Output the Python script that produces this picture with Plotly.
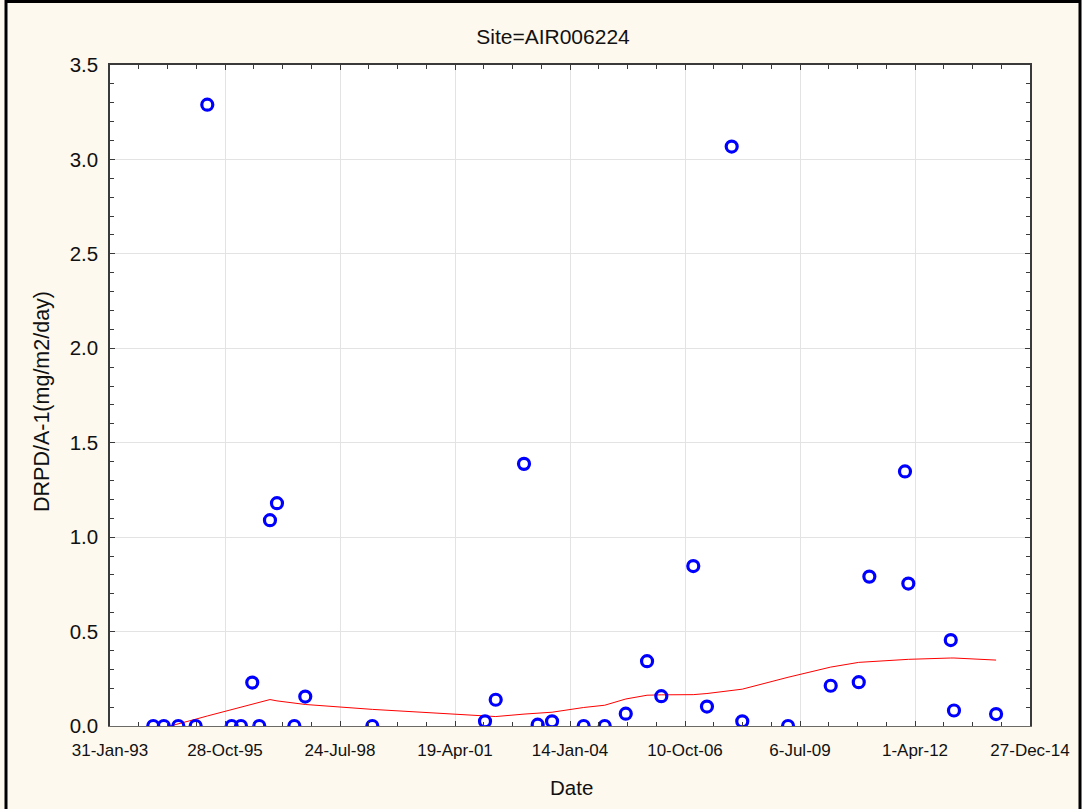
import plotly.graph_objects as go

# Measured deposition samples
sample_dates = [
    "1994-02-11", "1994-05-14", "1994-09-17", "1995-02-15", "1995-05-27",
    "1995-12-25", "1996-03-15", "1996-06-21", "1996-08-21", "1996-11-22",
    "1997-01-22", "1997-06-22", "1997-09-25", "1999-05-01", "2002-01-05",
    "2002-04-08", "2002-12-10", "2003-04-08", "2003-08-11", "2004-05-12",
    "2004-11-11", "2005-05-13", "2005-11-14", "2006-03-18", "2006-12-21",
    "2007-04-19", "2007-11-20", "2008-02-20", "2009-03-24", "2010-03-30",
    "2010-11-29", "2011-03-01", "2012-01-05", "2012-02-03", "2013-02-06",
    "2013-03-06", "2014-03-07",
]
sample_values = [
    0.0, 0.0, 0.0, 0.0, 3.29,
    0.0, 0.0, 0.23, 0.0, 1.09,
    1.18, 0.0, 0.156, 0.0, 0.025,
    0.139, 1.388, 0.007, 0.025, 0.0,
    0.0, 0.065, 0.343, 0.158, 0.847,
    0.103, 3.068, 0.025, 0.0, 0.213,
    0.232, 0.791, 1.348, 0.754, 0.455,
    0.082, 0.063,
]

# Smoothed trend evaluated at the sample dates
trend_values = [
    -0.024, -0.010, 0.012, 0.036, 0.053,
    0.087, 0.100, 0.116, 0.126, 0.140,
    0.133, 0.120, 0.114, 0.088, 0.053,
    0.050, 0.063, 0.069, 0.073, 0.098,
    0.110, 0.143, 0.163, 0.165, 0.166,
    0.172, 0.186, 0.195, 0.258, 0.312,
    0.337, 0.341, 0.352, 0.353, 0.360,
    0.360, 0.349,
]

x_tick_dates = [
    "1993-01-31", "1995-10-28", "1998-07-24", "2001-04-19", "2004-01-14",
    "2006-10-10", "2009-07-06", "2012-04-01", "2014-12-27",
]
x_tick_labels = [
    "31-Jan-93", "28-Oct-95", "24-Jul-98", "19-Apr-01", "14-Jan-04",
    "10-Oct-06", "6-Jul-09", "1-Apr-12", "27-Dec-14",
]
y_tick_values = [0.0, 0.5, 1.0, 1.5, 2.0, 2.5, 3.0, 3.5]
y_tick_labels = ["0.0", "0.5", "1.0", "1.5", "2.0", "2.5", "3.0", "3.5"]

SANS = "Liberation Sans, Arial, sans-serif"
NARROW = "Liberation Sans Narrow, Arial Narrow, Liberation Sans, sans-serif"
PAPER = "#FEF9EE"
DAY_MS = 86400000

fig = go.Figure()
fig.add_trace(go.Scatter(
    x=sample_dates, y=trend_values, mode="lines",
    line=dict(color="#FF0000", width=1), hoverinfo="skip", showlegend=False,
))
fig.add_trace(go.Scatter(
    x=sample_dates, y=sample_values, mode="markers",
    marker=dict(symbol="circle-open", size=11, color="#0000FF",
                line=dict(width=3.2, color="#0000FF")),
    cliponaxis=True, showlegend=False,
))

axis_common = dict(
    showline=True, linecolor="#3a3a3a", linewidth=1.5, mirror="ticks",
    ticks="inside", ticklen=5, tickcolor="#3a3a3a", tickwidth=1,
    showgrid=True, gridcolor="#e3e3e3", gridwidth=1, zeroline=False,
)

fig.update_xaxes(
    type="date", range=["1993-01-31", "2014-12-27"],
    tickmode="array", tickvals=x_tick_dates, ticktext=x_tick_labels,
    tickfont=dict(family=NARROW, size=17, color="#111111"),
    ticklabelstandoff=8,
    minor=dict(tick0="1993-01-31", dtick=250 * DAY_MS, ticks="inside",
               ticklen=4, tickcolor="#3a3a3a", showgrid=False),
    **axis_common,
)
fig.update_yaxes(
    range=[0, 3.5], tickmode="array", tickvals=y_tick_values,
    ticktext=y_tick_labels,
    tickfont=dict(family=SANS, size=20.5, color="#111111"),
    ticklabelstandoff=6,
    minor=dict(dtick=0.1, ticks="inside", ticklen=4, tickcolor="#3a3a3a",
               showgrid=False),
    **axis_common,
)

px_x = lambda p: (p - 110) / 920
px_y = lambda p: (726 - p) / 661

# Markers sitting on the baseline are cut off at the x-axis line
fig.add_shape(type="rect", xref="paper", yref="paper", layer="above",
              x0=px_x(100), x1=px_x(1040), y0=px_y(726.8), y1=px_y(740),
              line=dict(width=0), fillcolor=PAPER)

# Frame around the whole figure
frame = dict(type="line", xref="paper", yref="paper",
             line=dict(color="#000000", width=3))
fig.add_shape(x0=px_x(6), x1=px_x(6), y0=px_y(0), y1=px_y(809), **frame)
fig.add_shape(x0=px_x(6), x1=px_x(1080), y0=px_y(1.5), y1=px_y(1.5), **frame)
fig.add_shape(x0=px_x(1080), x1=px_x(1080), y0=px_y(0), y1=px_y(809), **frame)

fig.add_annotation(text="Date", xref="paper", yref="paper",
                   x=px_x(571), y=px_y(787), showarrow=False,
                   xanchor="center", yanchor="middle",
                   font=dict(family=SANS, size=20.5, color="#111111"))
fig.add_annotation(text="DRPD/A-1(mg/m2/day)", xref="paper", yref="paper",
                   x=px_x(42), y=px_y(402), showarrow=False, textangle=-90,
                   xanchor="center", yanchor="middle",
                   font=dict(family=SANS, size=21.5, color="#111111"))

fig.update_layout(
    width=1082, height=809,
    margin=dict(l=110, r=52, t=65, b=83),
    paper_bgcolor=PAPER, plot_bgcolor="#FFFFFF",
    title=dict(text="Site=AIR006224", x=553 / 1082, xanchor="center",
               y=1 - 37 / 809, yanchor="middle", yref="container",
               font=dict(family=NARROW, size=21, color="#111111")),
    showlegend=False,
)

fig.write_html("out.html")
